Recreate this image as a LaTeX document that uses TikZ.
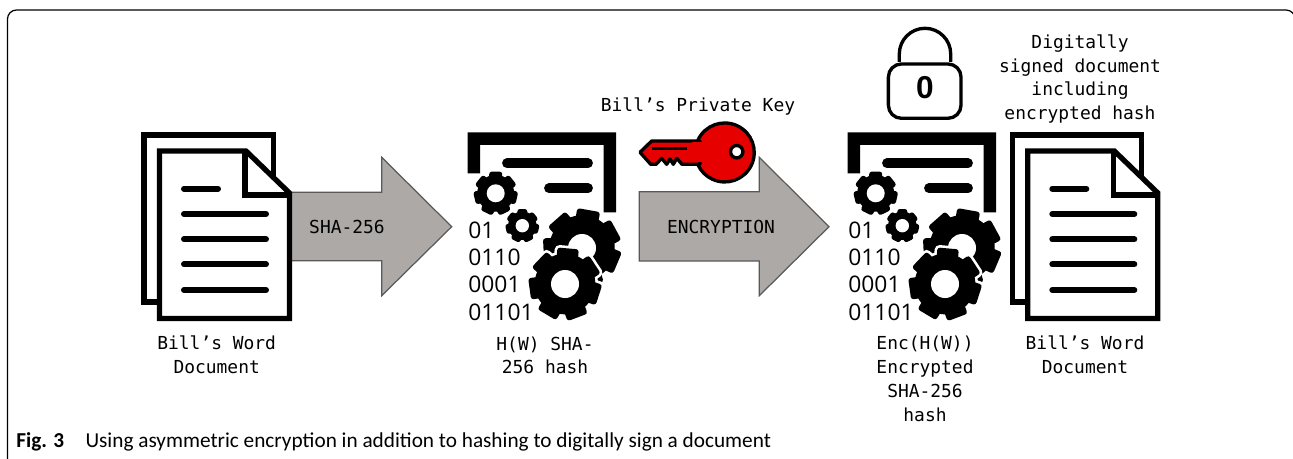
\documentclass[tikz,border=0pt]{standalone}
\usepackage{fontspec}
\setmainfont{Carlito}
\newfontfamily\monofont{DejaVu Sans Mono}
\newfontfamily\digitfont{Open Sans}
\newfontfamily\lockfont{Liberation Sans}

\definecolor{arrowgray}{HTML}{ADA9A7}
\definecolor{arrowedge}{HTML}{595959}
\definecolor{keyred}{HTML}{E60000}

\tikzset{
    monolabel/.style={inner sep=0pt, align=center, font=\monofont\fontsize{10.2}{13.6}\selectfont},
    docline/.style={line width=3.4pt, line cap=round},
    docedge/.style={line width=3pt, draw=black},
    hashbar/.style={line width=5.6pt, line cap=round},
    processarrow/.style={fill=arrowgray, draw=arrowedge, line width=0.7pt},
    gearbit/.style={fill=black},
    gearhalo/.style={fill=white, draw=white, line width=3pt},
    pics/wordDoc/.style={code={
        % back and front sheet
        \draw[docedge, fill=white] (144,135) rectangle (273.5,302);
        \draw[docedge, fill=white] (159.5,151) -- (246,151) -- (289.5,193) -- (289.5,318.5) -- (159.5,318.5) -- cycle;
        \draw[docedge] (245,151) -- (245,195) -- (289.5,195);

        % text lines
        \draw[docline] (184,188.7) -- (218,188.7);
        \foreach \liney in {214,239.3,264.3,290}
            \draw[docline] (184,\liney) -- (266,\liney);
    }},
    pics/hashDoc/.style={code={
        % bracket and bars
        \fill (467.7,173.3) -- (467.7,132.3) -- (616,132.3) -- (616,212.3) -- (603.7,212.3) -- (603.7,145) -- (480,145) -- (480,173.3) -- cycle;
        \draw[hashbar] (507,163.3) -- (588,163.3);
        \draw[hashbar] (549,188.3) -- (588,188.3);

        % gears
        \gearwheel{495.7}{193.3}{21.7}{9}{0}
        \gearwheel{522.3}{225.7}{16.7}{6.7}{0}
        \gearwheel{582}{248}{38.5}{14}{-10}
        \gearwheel[gearhalo]{565}{284}{35.7}{14}{-5}
        \gearwheel{565}{284}{35.7}{14}{-5}

        % binary digits
        \node[anchor=west, inner sep=0pt, align=left, font=\digitfont\fontsize{13}{15.6}\selectfont] (bits) at (468,271) {01\\0110\\0001\\01101};
    }}
}

\newcommand{\gearwheel}[6][gearbit]{
    \foreach \toothnum in {0,...,6}
        \path[#1, rounded corners=1.5pt, rotate around={51.43*\toothnum+#6:(#2,#3)}] (#2-0.3*#4,#3) rectangle (#2+0.3*#4,#3-#4);
    \path[#1] (#2,#3) circle ({0.85*#4});
    \fill[white] (#2,#3) circle (#5);
}

\begin{document}
\begin{tikzpicture}[x=0.02cm, y=-0.02cm]
    \useasboundingbox (0,0) rectangle (1293,459);

    % Frame
    \draw[line width=0.7pt, rounded corners=5.1pt] (7.5,459) -- (7.5,10) -- (1295,10) -- (1295,459);

    % Arrows
    \draw[processarrow] (285,192.3) -- (381.7,192.3) -- (381.7,157.3) -- (451.7,226.7) -- (381.7,295.7) -- (381.7,260.7) -- (285,260.7) -- cycle;
    \draw[processarrow] (639.3,191.7) -- (759.3,191.7) -- (759.3,157.3) -- (829,226.7) -- (759.3,295.7) -- (759.3,261) -- (639.3,261) -- cycle;

    % Icons
    \pic (leftDoc) at (0,0) {wordDoc};
    \pic (rightDoc) at (868.3,0) {wordDoc};
    \pic (plainHash) at (0,0) {hashDoc};
    \pic (lockedHash) at (380,0) {hashDoc};

    % Key
    \draw[fill=keyred, line width=1.9pt, line join=round] (698,140) arc (-155:155:29.5) -- cycle;
    \draw[fill=keyred, line width=1.9pt, line join=round] (640,152.3) -- (651.7,141) -- (700,141) -- (700,164.3) -- (682,164.3) -- (676.7,158.3) -- (673.3,164.3) -- (670,159) -- (666.7,164.3) -- (661.7,158.3) -- (656,164.3) -- (650.7,164.3) -- cycle;
    \fill[keyred] (692,142.5) rectangle (706,162);
    \draw[line width=1.6pt] (651.7,148.3) -- (687.3,148.3);
    \draw[fill=white, line width=1.9pt] (736.7,151.7) circle (6.2);

    % Lock
    \draw[line width=1.9pt] (899.3,62) -- (899.3,54) arc (180:360:25.7) -- (950.7,62);
    \draw[line width=1.9pt, rounded corners=7.4pt] (888.4,64) rectangle (961,118.3);

    % Labels
    \node[inner sep=0pt, font=\lockfont\bfseries\fontsize{18}{18}\selectfont] (lockDigit) at (925,87.3) {0};
    \node[monolabel] (shaLabel) at (347,227) {SHA-256};
    \node[monolabel] (encLabel) at (721,226.7) {ENCRYPTION};
    \node[monolabel] (keyLabel) at (698,106.7) {Bill’s Private Key};
    \node[monolabel] (leftDocLabel) at (216.7,355) {Bill’s Word\\Document};
    \node[monolabel] (plainHashLabel) at (545,355.3) {H(W) SHA-\\256 hash};
    \node[monolabel] (lockedHashLabel) at (925,378.5) {Enc(H(W))\\Encrypted\\SHA-256\\hash};
    \node[monolabel] (rightDocLabel) at (1085,355) {Bill’s Word\\Document};
    \node[monolabel] (signedLabel) at (1080,79) {Digitally\\signed document\\including\\encrypted hash};

    % Caption
    \node[anchor=base west, inner sep=0pt, font=\fontsize{12.1}{14}\selectfont] (caption) at (16,447.5) {\textbf{Fig. 3}\hspace{1em}Using asymmetric encryption in addition to hashing to digitally sign a document};
\end{tikzpicture}
\end{document}
